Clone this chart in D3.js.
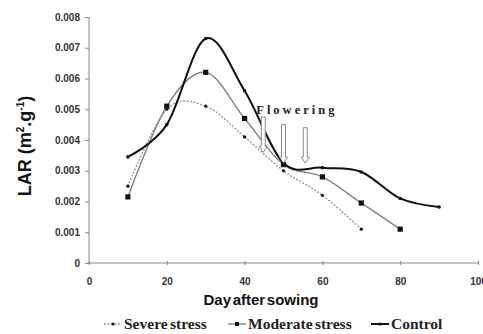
<!DOCTYPE html>
<meta charset="utf-8">
<head>
  <title>LAR</title>
</head>
<style>
  body { margin: 0; background: #fff; }
  .tick text { font-family: Arial, "Liberation Sans", sans-serif; font-weight: bold; font-size: 10px; fill: #333; }
  .domain, .tick line { stroke: #888; }
</style>
<body>
  <svg width="483" height="334"></svg>
  <script src="https://cdnjs.cloudflare.com/ajax/libs/d3/7.8.5/d3.min.js"></script>
  <script>
    var days = [10, 20, 30, 40, 50, 60, 70, 80, 90]
    var severe = [0.0025, 0.0050, 0.0051, 0.0041, 0.0030, 0.0022, 0.0011]
    var moderate = [0.00215, 0.0051, 0.0062, 0.0047, 0.0032, 0.0028, 0.00195, 0.0011]
    var control = [0.00345, 0.0045, 0.0073, 0.0056, 0.00325, 0.0031, 0.00296, 0.0021, 0.00182]
    var xTicks = [0, 20, 40, 60, 80, 100]
    var yTicks = [0, 0.001, 0.002, 0.003, 0.004, 0.005, 0.006, 0.007, 0.008]
    // flowering arrows: day, top value, bottom value
    var arrows = [[44.8, 0.00475, 0.0036], [50, 0.0045, 0.00325], [55.6, 0.0044, 0.00325]]

    var svg = d3.select('svg')
    var x = d3.scaleLinear().domain([0, 100]).range([89, 478])
    var y = d3.scaleLinear().domain([0, 0.008]).range([263, 17])

    var xg = svg.append('g')
      .attr('transform', 'translate(0,' + y(0) + ')')
      .call(d3.axisBottom(x).tickValues(xTicks).tickSize(3).tickPadding(12))
    xg.selectAll('.tick line').attr('y1', -2).attr('y2', 2)
    xg.select('.domain').attr('d', 'M' + x(0) + ',0H' + x(100))

    var yg = svg.append('g')
      .attr('transform', 'translate(' + x(0) + ',0)')
      .call(d3.axisLeft(y).tickValues(yTicks).tickSize(4).tickPadding(5)
        .tickFormat(function(d) { return d === 0 ? '0' : d3.format('.3f')(d) }))
    yg.select('.domain').attr('d', 'M0,' + y(0.008) + 'V' + y(0))

    var series = [
      { data: severe, color: '#999', width: 1.4, dash: '2,1.5', marker: 'dot', r: 1.6 },
      { data: moderate, color: '#808080', width: 1.4, dash: null, marker: 'square', r: 2.6 },
      { data: control, color: '#111', width: 2, dash: null, marker: 'dot', r: 1.8 }
    ]

    var line = d3.line()
      .x(function(d, i) { return x(days[i]) })
      .y(function(d) { return y(d) })
      .curve(d3.curveCardinal.tension(0))

    series.forEach(function(s) {
      svg.append('path')
        .attr('d', line(s.data))
        .attr('fill', 'none')
        .attr('stroke', s.color)
        .attr('stroke-width', s.width)
        .attr('stroke-dasharray', s.dash)
      var g = svg.append('g')
      s.data.forEach(function(v, i) {
        if (s.marker === 'square') {
          g.append('rect').attr('x', x(days[i]) - s.r).attr('y', y(v) - s.r)
            .attr('width', s.r * 2).attr('height', s.r * 2).attr('fill', '#111')
        } else {
          g.append('circle').attr('cx', x(days[i])).attr('cy', y(v)).attr('r', s.r).attr('fill', '#111')
        }
      })
    })

    // flowering arrows
    arrows.forEach(function(a) {
      var cx = x(a[0]), t = y(a[1]), b = y(a[2])
      var hw = 2, hh = 4, hl = 6
      svg.append('path')
        .attr('d', 'M' + (cx - hw) + ',' + t + 'H' + (cx + hw) + 'V' + (b - hl) + 'H' + (cx + hh) +
          'L' + cx + ',' + b + 'L' + (cx - hh) + ',' + (b - hl) + 'H' + (cx - hw) + 'Z')
        .attr('fill', '#fff')
        .attr('stroke', '#888')
        .attr('stroke-width', 1)
    })

    svg.append('text')
      .attr('x', x(43)).attr('y', y(0.00483))
      .attr('font-family', '"Liberation Serif", serif')
      .attr('font-weight', 'bold')
      .attr('font-size', 12.5)
      .attr('letter-spacing', 3)
      .attr('fill', '#222')
      .text('Flowering')

    svg.append('text')
      .attr('transform', 'translate(31,146) rotate(-90)')
      .attr('text-anchor', 'middle')
      .attr('font-family', 'Arial, "Liberation Sans", sans-serif')
      .attr('font-weight', 'bold')
      .attr('font-size', 18)
      .attr('fill', '#111')
      .call(function(t) {
        t.append('tspan').text('LAR (m')
        t.append('tspan').attr('font-size', 10).attr('dy', -7).text('2')
        t.append('tspan').attr('dy', 7).text('.g')
        t.append('tspan').attr('font-size', 10).attr('dy', -7).text('-1')
        t.append('tspan').attr('dy', 7).text(')')
      })

    svg.append('text')
      .attr('x', 261).attr('y', 305)
      .attr('text-anchor', 'middle')
      .attr('font-family', 'Arial, "Liberation Sans", sans-serif')
      .attr('font-weight', 'bold')
      .attr('font-size', 15)
      .attr('word-spacing', -2.5)
      .attr('fill', '#111')
      .text('Day after sowing')

    // legend
    var legend = [
      { name: 'Severe stress', x: 104, s: series[0] },
      { name: 'Moderate stress', x: 228, s: series[1] },
      { name: 'Control', x: 371, s: series[2] }
    ]
    legend.forEach(function(l) {
      var g = svg.append('g').attr('transform', 'translate(' + l.x + ',324)')
      g.append('line').attr('x1', 0).attr('x2', 18).attr('y1', 0).attr('y2', 0)
        .attr('stroke', l.s.color).attr('stroke-width', l.s.width).attr('stroke-dasharray', l.s.dash)
      if (l.s.marker === 'square') {
        g.append('rect').attr('x', 9 - 2).attr('y', -2).attr('width', 4).attr('height', 4).attr('fill', '#111')
      } else {
        g.append('circle').attr('cx', 9).attr('cy', 0).attr('r', 1.6).attr('fill', '#111')
      }
      g.append('text').attr('x', 20).attr('y', 5)
        .attr('font-family', '"Liberation Serif", serif')
        .attr('font-weight', 'bold')
        .attr('font-size', 15.5)
        .attr('word-spacing', -1.5)
        .attr('fill', '#222')
        .text(l.name)
    })
  </script>
</body>
